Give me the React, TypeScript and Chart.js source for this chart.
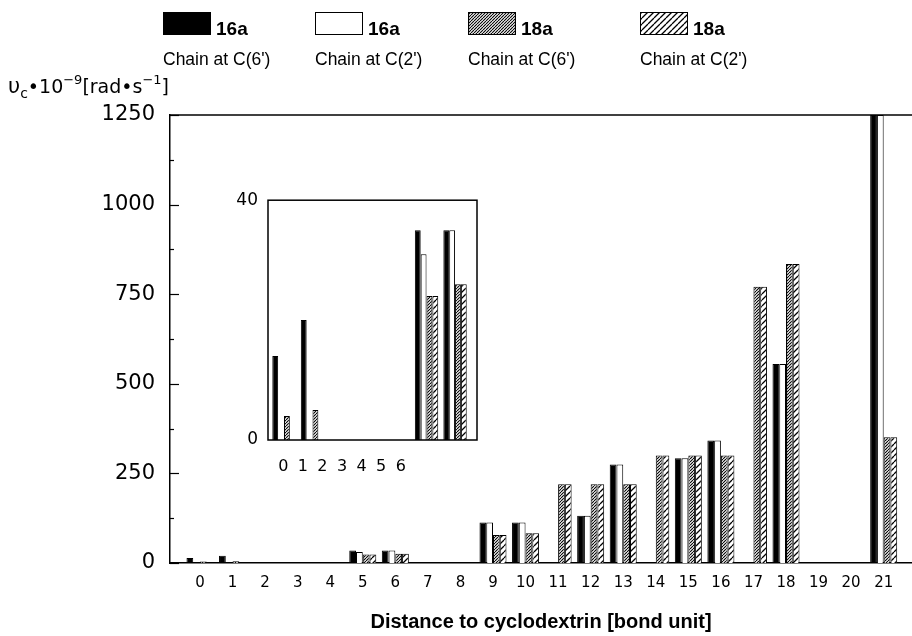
import React, { useEffect, useRef } from 'react';
import { Chart, registerables } from 'chart.js';

Chart.register(...registerables);

// ---------- data ----------
const categories = [0, 1, 2, 3, 4, 5, 6, 7, 8, 9, 10, 11, 12, 13, 14, 15, 16, 17, 18, 19, 20, 21];
const xTickLabels = ['0', '1', '2', '3', '4', '5', '6', '7', '8', '9', '10', '11', '12', '13', '14', '15', '16', '17', '18', '19', '20', '21'];
const yTicks = [0, 250, 500, 750, 1000, 1250];

const insetCategories = [0, 1, 2, 3, 4, 5, 6];
const insetTickLabels = ['0', '1', '2', '3', '4', '5', '6'];
const insetYTicks = [0, 40];

const compound = ['16a', '16a', '18a', '18a'];
const chainSite = ["Chain at C(6')", "Chain at C(2')", "Chain at C(6')", "Chain at C(2')"];

const s16aC6 = [14, 20, null, null, null, 35, 35, null, null, 113, 113, null, 132, 275, null, 292, 342, null, 555, null, null, 1250];
const s16aC2 = [null, null, null, null, null, 31, 35, null, null, 113, 113, null, 132, 275, null, 292, 342, null, 555, null, null, 1250];
const s18aC6 = [4, 5, null, null, null, 24, 26, null, null, 78, 83, 220, 220, 220, 300, 300, 300, 771, 834, null, null, 351];
const s18aC2 = [null, null, null, null, null, 24, 26, null, null, 78, 83, 220, 220, 220, 300, 300, 300, 771, 834, null, null, 351];

const xTitle = 'Distance to cyclodextrin [bond unit]';

// ---------- helpers ----------
function makeHatch(step: number, lw: number) {
  const c = document.createElement('canvas');
  c.width = step;
  c.height = step;
  const g = c.getContext('2d')!;
  g.fillStyle = '#ffffff';
  g.fillRect(0, 0, step, step);
  g.strokeStyle = '#000000';
  g.lineWidth = lw;
  g.beginPath();
  for (const o of [-step, 0, step]) {
    g.moveTo(o, step);
    g.lineTo(o + step, 0);
  }
  g.stroke();
  return g.createPattern(c, 'repeat')!;
}

const legendX = [163, 315, 468, 640];

const mainDecor = {
  id: 'mainDecor',
  afterDraw(chart: any) {
    const { ctx, chartArea, scales } = chart;
    ctx.save();
    // top frame line
    ctx.strokeStyle = '#000';
    ctx.lineWidth = 1.5;
    ctx.beginPath();
    ctx.moveTo(chartArea.left, chartArea.top);
    ctx.lineTo(chartArea.right, chartArea.top);
    ctx.stroke();
    // inward ticks (major + minor)
    const ys = scales.y;
    ctx.lineWidth = 1.2;
    for (let i = 0; i < yTicks.length; i++) {
      const py = Math.round(ys.getPixelForValue(yTicks[i])) + 0.5;
      ctx.beginPath();
      ctx.moveTo(chartArea.left, py);
      ctx.lineTo(chartArea.left + 9, py);
      ctx.stroke();
      if (i < yTicks.length - 1) {
        const pm = Math.round(ys.getPixelForValue((yTicks[i] + yTicks[i + 1]) / 2)) + 0.5;
        ctx.beginPath();
        ctx.moveTo(chartArea.left, pm);
        ctx.lineTo(chartArea.left + 4, pm);
        ctx.stroke();
      }
    }
    // legend
    chart.data.datasets.forEach((ds: any, i: number) => {
      const x = legendX[i];
      ctx.fillStyle = ds.backgroundColor;
      ctx.fillRect(x, 12, 48, 23);
      ctx.strokeStyle = '#000';
      ctx.lineWidth = 1;
      ctx.strokeRect(x + 0.5, 12.5, 47, 22);
      ctx.fillStyle = '#000';
      ctx.textBaseline = 'alphabetic';
      ctx.textAlign = 'left';
      ctx.font = "bold 19px 'Liberation Sans', Arial, sans-serif";
      ctx.fillText(compound[i], x + 53, 35);
      ctx.font = "17.5px 'Liberation Sans', Arial, sans-serif";
      ctx.fillText(chainSite[i], x, 65);
    });
    // y-axis title
    const runs = [
      { t: 'υ', f: "21px 'DejaVu Sans', sans-serif", dy: 0 },
      { t: 'c', f: "14px 'DejaVu Sans', sans-serif", dy: 5 },
      { t: '•10', f: "19px 'DejaVu Sans', sans-serif", dy: 0 },
      { t: '−9', f: "13px 'DejaVu Sans', sans-serif", dy: -9 },
      { t: '[rad•s', f: "19px 'DejaVu Sans', sans-serif", dy: 0 },
      { t: '−1', f: "13px 'DejaVu Sans', sans-serif", dy: -9 },
      { t: ']', f: "19px 'DejaVu Sans', sans-serif", dy: 0 },
    ];
    let cx = 8;
    ctx.fillStyle = '#000';
    for (const r of runs) {
      ctx.font = r.f;
      ctx.fillText(r.t, cx, 93 + r.dy);
      cx += ctx.measureText(r.t).width;
    }
    ctx.restore();
  },
};

const insetDecor = {
  id: 'insetDecor',
  afterDraw(chart: any) {
    const { ctx, chartArea } = chart;
    ctx.save();
    ctx.strokeStyle = '#000';
    ctx.lineWidth = 1.5;
    ctx.strokeRect(chartArea.left, chartArea.top, chartArea.right - chartArea.left, chartArea.bottom - chartArea.top);
    ctx.restore();
  },
};

export default function App() {
  const mainRef = useRef<HTMLCanvasElement>(null);
  const insetRef = useRef<HTMLCanvasElement>(null);

  useEffect(() => {
    const dense = makeHatch(3, 1.1);
    const sparse = makeHatch(6, 1.3);
    const fills: any[] = ['#000000', '#ffffff', dense, sparse];
    const seriesList = [s16aC6, s16aC2, s18aC6, s18aC2];
    const mk = (cats: number[], catPct: number) =>
      seriesList.map((s, i) => ({
        label: `${compound[i]} ${chainSite[i]}`,
        data: cats.map((c, j) => ({ x: c, y: s[j] })),
        backgroundColor: fills[i],
        borderColor: '#000000',
        borderWidth: 1,
        categoryPercentage: catPct,
        barPercentage: 1,
      }));

    const main = new Chart(mainRef.current!, {
      type: 'bar',
      data: { datasets: mk(categories, 0.83) as any },
      options: {
        responsive: false,
        animation: false,
        devicePixelRatio: 1,
        layout: { padding: { top: 115, left: 0, right: 0, bottom: 0 } },
        plugins: { legend: { display: false }, tooltip: { enabled: false }, title: { display: false } },
        scales: {
          x: {
            type: 'linear',
            position: 'bottom',
            min: -0.921,
            max: 21.87,
            offset: false,
            grid: { display: false, drawTicks: false, offset: false },
            border: { display: true, color: '#000', width: 1.5 },
            afterBuildTicks: (s: any) => {
              s.ticks = categories.map((v) => ({ value: v }));
            },
            afterFit: (s: any) => {
              s.height = 73;
            },
            ticks: {
              padding: 11,
              autoSkip: false,
              maxRotation: 0,
              color: '#000',
              font: { family: "'DejaVu Sans'", size: 15 },
              callback: (v: any) => xTickLabels[categories.indexOf(Number(v))] ?? '',
            },
            title: {
              display: true,
              text: xTitle,
              color: '#000',
              font: { family: "'Liberation Sans'", size: 20, weight: 'bold' },
              padding: { top: 0, bottom: 2 },
            },
          },
          y: {
            min: 0,
            max: 1250,
            grid: { display: false, drawTicks: false },
            border: { display: true, color: '#000', width: 1.5 },
            afterBuildTicks: (s: any) => {
              s.ticks = yTicks.map((v) => ({ value: v }));
            },
            afterFit: (s: any) => {
              s.width = 170;
            },
            ticks: {
              padding: 15,
              color: '#000',
              font: { family: "'DejaVu Sans'", size: 21 },
              callback: (v: any) => String(v),
            },
          },
        },
      } as any,
      plugins: [mainDecor],
    });

    const inset = new Chart(insetRef.current!, {
      type: 'bar',
      data: { datasets: mk(insetCategories, 0.82) as any },
      options: {
        responsive: false,
        animation: false,
        devicePixelRatio: 1,
        layout: { padding: { top: 14, left: 0, right: 13, bottom: 0 } },
        plugins: { legend: { display: false }, tooltip: { enabled: false } },
        scales: {
          x: { type: 'linear', display: false, min: -0.561, max: 6.77, offset: false },
          xl: {
            type: 'linear',
            position: 'bottom',
            min: -0.782,
            max: 9.898,
            offset: false,
            grid: { display: false, drawTicks: false },
            border: { display: false },
            afterBuildTicks: (s: any) => {
              s.ticks = insetCategories.map((v) => ({ value: v }));
            },
            afterFit: (s: any) => {
              s.height = 50;
            },
            ticks: {
              padding: 17,
              autoSkip: false,
              maxRotation: 0,
              color: '#000',
              font: { family: "'DejaVu Sans'", size: 16 },
              callback: (v: any) => insetTickLabels[insetCategories.indexOf(Number(v))] ?? '',
            },
          },
          y: {
            min: 0,
            max: 40,
            grid: { display: false, drawTicks: false },
            border: { display: false },
            afterBuildTicks: (s: any) => {
              s.ticks = insetYTicks.map((v) => ({ value: v }));
            },
            afterFit: (s: any) => {
              s.width = 48;
            },
            ticks: {
              padding: 10,
              color: '#000',
              font: { family: "'DejaVu Sans'", size: 17 },
              callback: (v: any) => String(v),
            },
          },
        },
      } as any,
      plugins: [insetDecor],
    });

    return () => {
      main.destroy();
      inset.destroy();
    };
  }, []);

  return (
    <div style={{ position: 'fixed', left: 0, top: 0, width: 912, height: 636, overflow: 'hidden', background: '#fff' }}>
      <canvas ref={mainRef} width={912} height={636} style={{ position: 'absolute', left: 0, top: 0, width: 912, height: 636 }} />
      <canvas ref={insetRef} width={270} height={310} style={{ position: 'absolute', left: 220, top: 180, width: 270, height: 310 }} />
    </div>
  );
}
